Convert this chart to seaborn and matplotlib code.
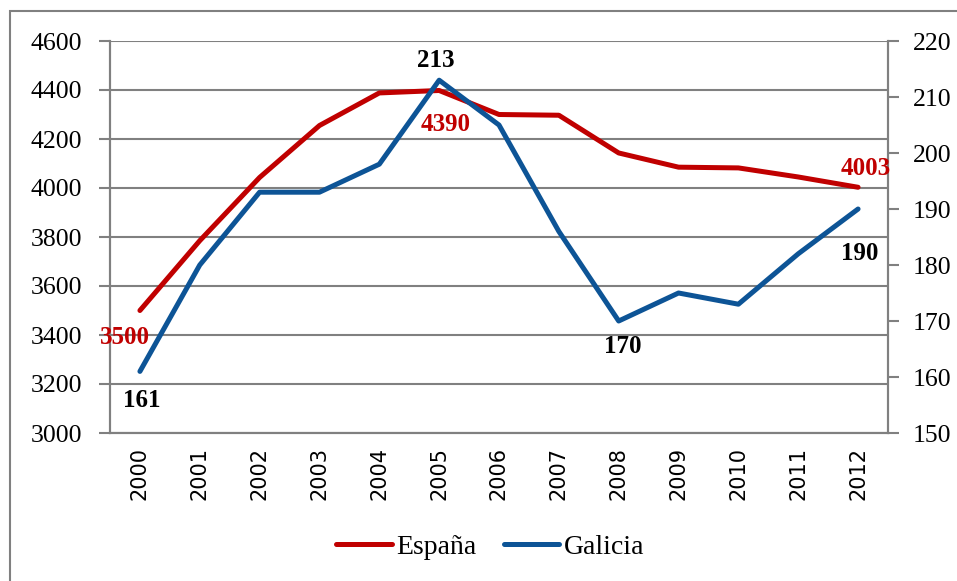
"""Dual-axis line chart: España vs Galicia, 2000-2012."""
import numpy as np
import pandas as pd
import seaborn as sns
import matplotlib
matplotlib.use('Agg')
import matplotlib.pyplot as plt
from matplotlib.lines import Line2D
from matplotlib.patches import Rectangle

years = ['2000', '2001', '2002', '2003', '2004', '2005', '2006',
         '2007', '2008', '2009', '2010', '2011', '2012']
espana = [3500, 3785, 4043, 4255, 4388, 4398, 4300, 4297, 4143, 4085, 4082, 4045, 4003]
galicia = [161, 180, 193, 193, 198, 213, 205, 186, 170, 175, 173, 182, 190]

left_ticks = [3000, 3200, 3400, 3600, 3800, 4000, 4200, 4400, 4600]
right_ticks = [150, 160, 170, 180, 190, 200, 210, 220]

# labels shown on the chart: (index, text, offset in pixels)
espana_labels = [(0, '3500', (-15, -27)), (5, '4390', (6, -34)), (12, '4003', (8, 19))]
galicia_labels = [(0, '161', (2, -29)), (5, '213', (-3, 20)),
                  (8, '170', (4, -25)), (12, '190', (2, -45))]

RED = '#C00000'
BLUE = '#0D5496'
GRID = '#808080'

sns.set_style('white')
plt.rcParams['font.family'] = ['Liberation Serif', 'DejaVu Serif']
plt.rcParams['text.color'] = 'black'
plt.rcParams['xtick.labelcolor'] = 'black'
plt.rcParams['ytick.labelcolor'] = 'black'

df = pd.DataFrame({'pos': np.arange(len(years)), 'year': years,
                   'España': espana, 'Galicia': galicia})

fig = plt.figure(figsize=(9.57, 5.81), dpi=100)
ax = fig.add_axes([110 / 957, 1 - 433 / 581, 778 / 957, 392 / 581])
ax2 = ax.twinx()

sns.lineplot(data=df, x='pos', y='España', ax=ax, color=RED, linewidth=3.6,
             solid_capstyle='round', zorder=3)
sns.lineplot(data=df, x='pos', y='Galicia', ax=ax2, color=BLUE, linewidth=3.6,
             solid_capstyle='round', zorder=3)

ax.set_xlim(-0.5, len(years) - 0.5)
ax.set_ylim(3000, 4600)
ax2.set_ylim(150, 220)
ax.set_yticks(left_ticks)
ax2.set_yticks(right_ticks)
ax.set_yticklabels([str(t) for t in left_ticks], fontsize=18.5)
ax2.set_yticklabels([str(t) for t in right_ticks], fontsize=18.5)

ax.set_xticks(np.arange(len(years)))
ax.set_xticklabels(years, rotation=90, fontsize=15, family='DejaVu Sans')
ax.set_xticks(np.arange(len(years) + 1) - 0.5, minor=True)
ax.tick_params(axis='x', which='major', length=0, pad=10)
ax.tick_params(axis='x', which='minor', length=8, width=1.5, color=GRID, direction='out')
ax.tick_params(axis='y', length=8, width=1.5, color=GRID, direction='out', pad=12)
ax2.tick_params(axis='y', length=8, width=1.5, color=GRID, direction='out', pad=10)

ax.yaxis.grid(True, color=GRID, linewidth=1.5)
ax.set_axisbelow(True)
ax.set_xlabel('')
ax.set_ylabel('')
ax2.set_ylabel('')

for a in (ax, ax2):
    for side in ('left', 'right', 'bottom'):
        a.spines[side].set_color(GRID)
        a.spines[side].set_linewidth(1.5)
    a.spines['top'].set_visible(False)

# España labels go on ax2 (drawn on top) but use ax's data coordinates
for i, txt, off in espana_labels:
    ax2.annotate(txt, (i, espana[i]), xycoords=ax.transData, xytext=off,
                 textcoords='offset pixels', ha='center', va='center', color=RED,
                 fontsize=18, fontweight='bold', zorder=5, annotation_clip=False)
for i, txt, off in galicia_labels:
    ax2.annotate(txt, (i, galicia[i]), xytext=off, textcoords='offset pixels',
                 ha='center', va='center', color='black', fontsize=18, fontweight='bold',
                 zorder=5)

handles = [Line2D([], [], color=RED, linewidth=3.6, solid_capstyle='round'),
           Line2D([], [], color=BLUE, linewidth=3.6, solid_capstyle='round')]
fig.legend(handles, ['España', 'Galicia'], loc='center', bbox_to_anchor=(0.512, 0.058),
           ncol=2, frameon=False, fontsize=20, handlelength=2.0, handletextpad=0.15,
           columnspacing=1.0)

fig.patches.append(Rectangle((10 / 957, -0.1), 1.2, 1 - 11 / 581 + 0.1,
                             transform=fig.transFigure, fill=False,
                             edgecolor=GRID, linewidth=1.5))

fig.savefig('out.png', dpi=100)
